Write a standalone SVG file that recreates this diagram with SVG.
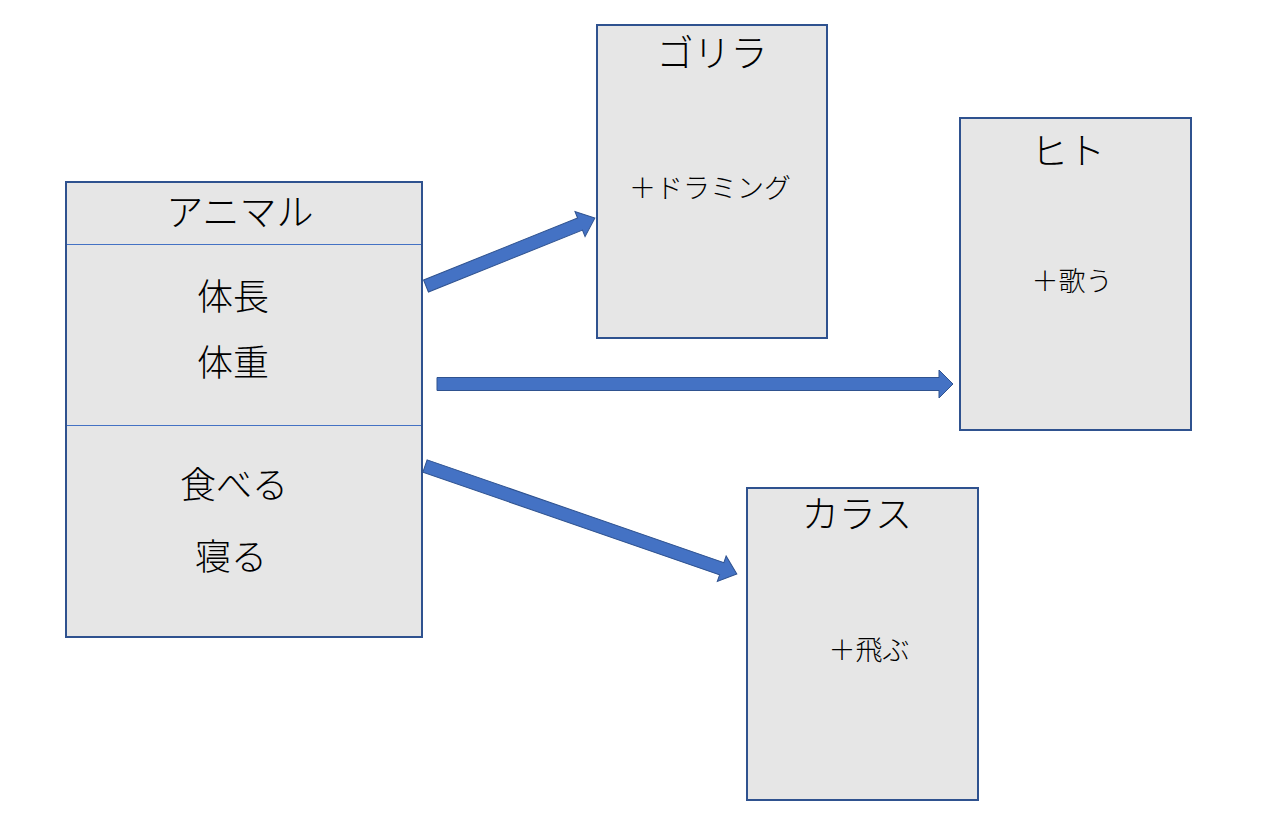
<svg xmlns="http://www.w3.org/2000/svg" width="1270" height="816" viewBox="0 0 1270 816">
<style>
.box{fill:#E6E6E6;stroke:#2F528F;stroke-width:2}
.div{stroke:#4472C4;stroke-width:1}
.t{font-family:"Noto Sans CJK JP","Noto Sans",sans-serif;fill:#000;text-anchor:middle;font-weight:300}
.title{font-size:37px}
.attr{font-size:36px}
.meth{font-size:27px}
.arrow{fill:#4472C4;stroke:#2F528F;stroke-width:1}
</style>
<rect width="1270" height="816" fill="#FFFFFF"/>
<g id="animal">
<rect class="box" x="66" y="182" width="356" height="455"/>
<line class="div" x1="67" y1="244.5" x2="421" y2="244.5"/>
<line class="div" x1="67" y1="425.5" x2="421" y2="425.5"/>
<text class="t title" x="240" y="226">アニマル</text>
<text class="t attr" x="233" y="310">体長</text>
<text class="t attr" x="233" y="376">体重</text>
<text class="t attr" x="234" y="498">食べる</text>
<text class="t attr" x="231" y="570">寝る</text>
</g>
<g id="gorilla">
<rect class="box" x="597" y="25" width="230" height="313"/>
<text class="t title" x="712" y="67">ゴリラ</text>
<text class="t meth" x="710" y="198">＋ドラミング</text>
</g>
<g id="hito">
<rect class="box" x="960" y="118" width="231" height="312"/>
<text class="t title" x="1068" y="165">ヒト</text>
<text class="t meth" x="1072" y="291">＋歌う</text>
</g>
<g id="karasu">
<rect class="box" x="747" y="488" width="231" height="312"/>
<text class="t title" x="857" y="528">カラス</text>
<text class="t meth" x="869" y="660">＋飛ぶ</text>
</g>
<g id="connectors">
<polygon class="arrow" transform="translate(426,286) rotate(-21.9)" points="0,-6.5 166,-6.5 166,-13.5 182,0 166,13.5 166,6.5 0,6.5"/>
<polygon class="arrow" transform="translate(437,384) rotate(0)" points="0,-6.5 502,-6.5 502,-14 516,0 502,14 502,6.5 0,6.5"/>
<polygon class="arrow" transform="translate(425,466) rotate(19.1)" points="0,-6.5 314,-6.5 314,-13.5 330,0 314,13.5 314,6.5 0,6.5"/>
</g>
</svg>
